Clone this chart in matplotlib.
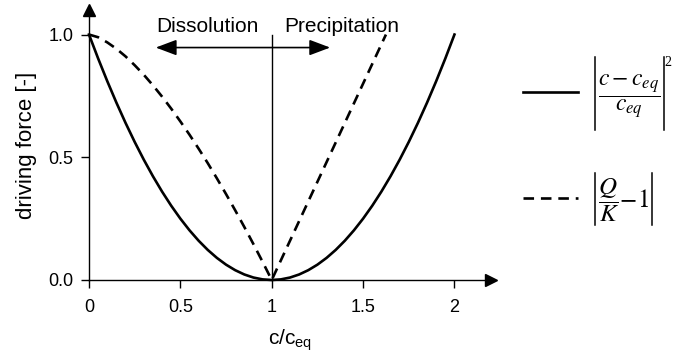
import matplotlib
matplotlib.use("Agg")
import matplotlib.pyplot as plt
from matplotlib.patches import FancyArrowPatch

plt.rcParams['font.family'] = ['Liberation Sans', 'DejaVu Sans']
plt.rcParams['mathtext.fontset'] = 'stix'
plt.rcParams['mathtext.rm'] = 'Liberation Sans'
plt.rcParams['mathtext.it'] = 'Liberation Sans:italic'
plt.rcParams['mathtext.bf'] = 'Liberation Sans:bold'

# concentration ratio c/c_eq and the two driving-force measures
c_ratio = [0.0, 0.05, 0.1, 0.15, 0.2, 0.25, 0.3, 0.35, 0.4, 0.45, 0.5,
           0.55, 0.6, 0.65, 0.7, 0.75, 0.8, 0.85, 0.9, 0.95, 1.0,
           1.05, 1.1, 1.15, 1.2, 1.25, 1.3, 1.35, 1.4, 1.45, 1.5,
           1.55, 1.6, 1.65, 1.7, 1.75, 1.8, 1.85, 1.9, 1.95, 2.0]
force_squared = [1.0, 0.9025, 0.81, 0.7225, 0.64, 0.5625, 0.49, 0.4225, 0.36, 0.3025, 0.25,
                 0.2025, 0.16, 0.1225, 0.09, 0.0625, 0.04, 0.0225, 0.01, 0.0025, 0.0,
                 0.0025, 0.01, 0.0225, 0.04, 0.0625, 0.09, 0.1225, 0.16, 0.2025, 0.25,
                 0.3025, 0.36, 0.4225, 0.49, 0.5625, 0.64, 0.7225, 0.81, 0.9025, 1.0]

c_ratio_qk = [0.0, 0.05, 0.1, 0.15, 0.2, 0.25, 0.3, 0.35, 0.4, 0.45, 0.5,
              0.55, 0.6, 0.65, 0.7, 0.75, 0.8, 0.85, 0.9, 0.95, 1.0,
              1.05, 1.1, 1.15, 1.2, 1.25, 1.3, 1.35, 1.4, 1.45, 1.5,
              1.55, 1.6, 1.625]
force_qk = [1.0, 0.989, 0.968, 0.942, 0.911, 0.875, 0.836, 0.793, 0.747, 0.698, 0.646,
            0.592, 0.535, 0.476, 0.414, 0.350, 0.284, 0.216, 0.146, 0.074, 0.0,
            0.08, 0.16, 0.24, 0.32, 0.40, 0.48, 0.56, 0.64, 0.72, 0.80,
            0.88, 0.96, 1.0]

x_ticks = [0, 0.5, 1, 1.5, 2]
x_tick_labels = ['0', '0.5', '1', '1.5', '2']
y_ticks = [0.0, 0.5, 1.0]
y_tick_labels = ['0.0', '0.5', '1.0']

W, H = 673, 354
fig = plt.figure(figsize=(W / 100, H / 100), dpi=100)
ax = fig.add_axes([89 / W, 74 / H, 402 / W, 270 / H])
ax.set_xlim(0, 2.2)
ax.set_ylim(0, 1.1)

for side in ('top', 'right'):
    ax.spines[side].set_visible(False)
for side in ('left', 'bottom'):
    ax.spines[side].set_linewidth(1.0)
    ax.spines[side].set_color('black')

# arrow heads on the axes
ax.plot(1, 0, marker='>', markersize=9, color='black', transform=ax.transAxes, clip_on=False)
ax.plot(0, 1, marker='^', markersize=9, color='black', transform=ax.transAxes, clip_on=False)

ax.set_xticks(x_ticks)
ax.set_xticklabels(x_tick_labels)
ax.set_yticks(y_ticks)
ax.set_yticklabels(y_tick_labels)
ax.tick_params(direction='out', length=6, width=1.0, labelsize=13, pad=8, colors='black')
ax.tick_params(axis='y', pad=5)

line_sq, = ax.plot(c_ratio, force_squared, color='black', lw=1.9, clip_on=False)
line_qk, = ax.plot(c_ratio_qk, force_qk, color='black', lw=1.9,
                   linestyle=(0, (4, 2.6)), clip_on=False)

# equilibrium line and direction arrow
ax.plot([1, 1], [0, 1.0], color='black', lw=1.0)
arrow = FancyArrowPatch((0.35, 0.947), (1.335, 0.947),
                        arrowstyle='<|-|>,head_length=0.85,head_width=0.32',
                        mutation_scale=15, lw=1.2, color='black')
ax.add_patch(arrow)
ax.text(0.65, 1.012, 'Dissolution', ha='center', va='baseline', fontsize=15)
ax.text(1.384, 1.012, 'Precipitation', ha='center', va='baseline', fontsize=15)

xl = ax.set_xlabel(r'c/c$_{\mathrm{eq}}$', fontsize=15, labelpad=8)
xl.set_math_fontfamily('custom')
ax.set_ylabel('driving force [-]', fontsize=16, labelpad=8)

# legend: line samples and formulas with thin absolute-value bars
fig.lines.append(plt.Line2D([523 / W, 578 / W], [1 - 92 / H, 1 - 92 / H],
                            color='black', lw=1.9, transform=fig.transFigure))
fig.lines.append(plt.Line2D([523 / W, 578 / W], [1 - 198 / H, 1 - 198 / H],
                            color='black', lw=1.9, linestyle=(0, (4, 2.6)),
                            transform=fig.transFigure))

f1 = fig.text(598 / W, 1 - 96 / H, r'$\dfrac{c-c_{eq}}{c_{eq}}$',
              fontsize=17, ha='left', va='center')
f2 = fig.text(598 / W, 1 - 200 / H, r'$\dfrac{Q}{K}\!-\!1$',
              fontsize=18, ha='left', va='center')
for t in (f1, f2):
    t.set_math_fontfamily('stix')

fig.canvas.draw()
renderer = fig.canvas.get_renderer()


def add_bars(text, top_px, bottom_px):
    bb = text.get_window_extent(renderer)
    for xp in (bb.x0 - 3, bb.x1 + 3):
        fig.lines.append(plt.Line2D([xp / W, xp / W],
                                    [1 - top_px / H, 1 - bottom_px / H],
                                    color='black', lw=1.1,
                                    transform=fig.transFigure))
    return bb


bb1 = add_bars(f1, 57, 130)
fig.text((bb1.x1 + 4) / W, 1 - 56 / H, '2', fontsize=10, ha='left', va='top',
         family=['Liberation Serif', 'DejaVu Serif'])
add_bars(f2, 173, 225)

fig.savefig('out.png', dpi=100)
